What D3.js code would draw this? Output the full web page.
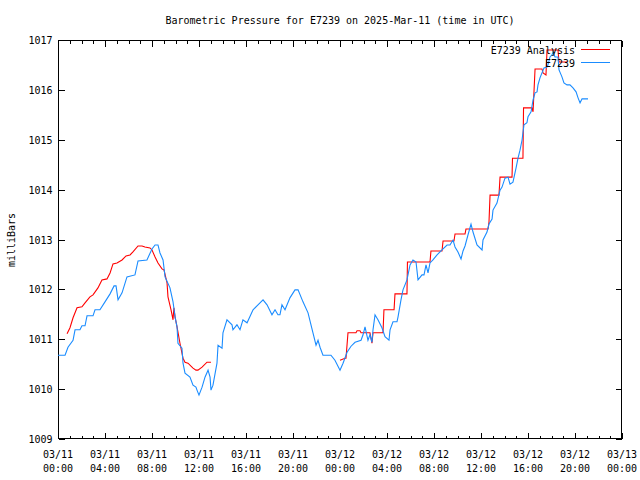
<!DOCTYPE html>
<html>
<head>
<meta charset="utf-8">
<script src="https://cdn.jsdelivr.net/npm/d3@7"></script>
<style>
  html, body { margin: 0; padding: 0; background: #fff; }
  svg { display: block; }
  text { font-family: "DejaVu Sans Mono", monospace; font-size: 10px; fill: #000; }
</style>
</head>
<body>
<svg id="chart" width="640" height="480"></svg>
<script>
// ---- data (hours since 2025-03-11 00:00 UTC, pressure in mbar) ----
const stationHours = [0,0.6,0.85,1.28,1.45,1.87,2.04,2.3,2.47,2.98,3.15,3.57,4.0,4.43,4.77,4.94,5.11,5.45,5.87,6.55,6.81,7.57,8.0,8.26,8.51,8.68,8.94,9.11,9.53,9.79,9.96,10.13,10.21,10.55,10.64,10.81,11.23,11.49,11.74,11.83,12.0,12.26,12.51,12.77,12.94,13.02,13.19,13.53,13.62,13.96,14.04,14.38,14.81,14.89,15.23,15.49,15.74,16.09,16.6,17.02,17.45,17.79,18.21,18.47,18.72,18.89,19.06,19.32,19.74,20.17,20.43,20.85,21.28,21.7,21.96,22.13,22.3,22.55,23.23,23.57,24.0,24.26,24.6,24.94,25.28,25.79,25.96,26.13,26.38,26.55,26.72,26.81,26.98,27.23,27.57,27.83,28.17,28.26,28.51,28.85,28.94,29.19,29.36,29.7,29.96,30.21,30.47,30.64,30.98,31.15,31.32,31.49,31.66,31.91,32.26,32.68,33.11,33.36,33.62,33.79,34.04,34.3,34.47,34.64,34.89,35.15,35.32,35.66,36.09,36.17,36.51,36.68,36.94,37.02,37.36,37.62,37.79,38.04,38.3,38.47,38.72,38.98,39.15,39.32,39.49,39.57,39.66,39.91,40.0,40.26,40.43,40.6,40.77,40.85,41.02,41.19,41.36,41.62,41.7,41.87,42.04,42.13,42.3,42.55,42.64,42.89,43.06,43.32,43.57,43.83,44.09,44.26,44.43,44.6,45.11];
const stationValues = [1010.68,1010.68,1010.84,1010.98,1011.19,1011.19,1011.27,1011.27,1011.47,1011.47,1011.59,1011.59,1011.75,1011.91,1012.07,1012.07,1011.79,1011.93,1012.25,1012.29,1012.57,1012.59,1012.81,1012.89,1012.89,1012.73,1012.59,1012.25,1012.03,1011.75,1011.45,1011.25,1010.92,1010.82,1010.52,1010.32,1010.24,1010.08,1010.04,1009.98,1009.88,1010.04,1010.24,1010.38,1010.24,1009.98,1010.08,1010.52,1010.88,1010.82,1011.13,1011.39,1011.29,1011.19,1011.29,1011.19,1011.39,1011.33,1011.59,1011.69,1011.79,1011.69,1011.49,1011.59,1011.49,1011.49,1011.69,1011.59,1011.83,1011.99,1011.99,1011.75,1011.53,1011.13,1010.88,1010.98,1010.84,1010.68,1010.68,1010.58,1010.38,1010.52,1010.74,1010.86,1010.94,1010.98,1011.09,1011.25,1010.98,1011.09,1010.94,1011.19,1011.49,1011.39,1011.23,1011.05,1010.98,1011.19,1011.35,1011.35,1011.45,1011.79,1011.99,1012.19,1012.49,1012.59,1012.55,1012.19,1012.29,1012.29,1012.49,1012.33,1012.53,1012.59,1012.69,1012.79,1012.89,1012.89,1012.99,1012.85,1012.75,1012.61,1012.77,1012.87,1013.09,1013.31,1013.15,1012.89,1012.79,1012.99,1013.15,1013.31,1013.41,1013.59,1013.73,1013.99,1014.05,1014.23,1014.25,1014.11,1014.15,1014.43,1014.63,1014.79,1014.99,1015.14,1015.30,1015.34,1015.46,1015.56,1015.80,1015.94,1015.96,1016.10,1016.24,1016.34,1016.44,1016.46,1016.50,1016.66,1016.70,1016.76,1016.66,1016.66,1016.40,1016.26,1016.14,1016.10,1016.10,1016.04,1015.96,1015.84,1015.74,1015.82,1015.82];

const analysisHours = [0.77,1.02,1.28,1.62,2.04,2.3,2.72,2.98,3.4,3.74,4.17,4.43,4.68,5.02,5.45,5.79,6.13,6.38,6.81,7.15,7.4,7.83,8.0,8.26,8.51,8.85,9.02,9.28,9.36,9.62,9.79,9.83,9.87,9.96,10.13,10.38,10.64,10.81,11.06,11.49,11.74,11.91,12.26,12.68,13.02,
  18.0,
  24.0,24.43,24.51,24.68,25.36,25.45,25.7,25.79,26.55,26.72,26.81,27.66,27.74,28.6,28.68,29.7,29.74,31.66,31.74,32.68,32.77,33.7,33.79,34.64,34.72,36.6,36.68,36.77,37.53,37.62,38.64,38.68,39.57,39.62,40.34,40.43,40.6,41.19,41.28,41.53,41.62,42.55,42.64,43.32];
const analysisValues = [1011.11,1011.23,1011.43,1011.63,1011.65,1011.73,1011.85,1011.89,1012.03,1012.19,1012.21,1012.33,1012.51,1012.53,1012.59,1012.67,1012.69,1012.75,1012.87,1012.87,1012.85,1012.83,1012.79,1012.65,1012.53,1012.41,1012.39,1012.13,1011.85,1011.59,1011.39,1011.53,1011.63,1011.45,1011.25,1010.92,1010.62,1010.54,1010.52,1010.42,1010.38,1010.38,1010.44,1010.54,1010.54,
  null,
  1010.58,1010.62,1010.62,1011.13,1011.13,1011.17,1011.17,1011.13,1011.13,1010.92,1011.13,1011.13,1011.59,1011.59,1011.91,1011.91,1012.55,1012.55,1012.77,1012.77,1012.97,1012.97,1013.11,1013.11,1013.21,1013.21,1013.35,1013.89,1013.89,1014.25,1014.25,1014.63,1014.63,1015.64,1015.64,1015.56,1016.42,1016.42,1016.34,1016.30,1016.80,1016.80,1016.56,1016.56];

const xMajorHours = [0,4,8,12,16,20,24,28,32,36,40,44,48];
const xTickDates = ["03/11","03/11","03/11","03/11","03/11","03/11","03/12","03/12","03/12","03/12","03/12","03/12","03/13"];
const xTickTimes = ["00:00","04:00","08:00","12:00","16:00","20:00","00:00","04:00","08:00","12:00","16:00","20:00","00:00"];
const yTicks = [1009,1010,1011,1012,1013,1014,1015,1016,1017];

const titleText = "Barometric Pressure for E7239 on 2025-Mar-11 (time in UTC)";
const yLabelText = "milliBars";
const seriesNames = ["E7239 Analysis", "E7239"];
const seriesColors = ["#ff0000", "#1a8cff"];

// ---- layout ----
const L = 58, R = 622, T = 40, B = 439;
const svg = d3.select("#chart");
const x = d3.scaleLinear().domain([0, 48]).range([L, R]);
const y = d3.scaleLinear().domain([1009, 1017]).range([B, T]);
const xMinorHours = d3.range(0, 49).filter(h => h % 4 !== 0);

// frame
svg.append("rect").attr("x", L + 0.5).attr("y", T + 0.5)
  .attr("width", R - L - 1).attr("height", B - T - 1)
  .attr("fill", "none").attr("stroke", "#000").attr("stroke-width", 1)
  .attr("shape-rendering", "crispEdges");

function styleAxis(g) {
  g.select(".domain").remove();
  g.selectAll("line").attr("stroke", "#000").attr("shape-rendering", "crispEdges");
  g.selectAll("text").attr("font-family", "DejaVu Sans Mono, monospace").attr("font-size", 10);
}

// bottom axis major
const gB = svg.append("g").attr("transform", `translate(0,${B - 0.5})`)
  .call(d3.axisBottom(x).tickValues(xMajorHours).tickSizeInner(-6).tickSizeOuter(0).tickPadding(12).tickFormat(""));
styleAxis(gB);
svg.append("g").attr("transform", `translate(0,${B - 0.5})`)
  .call(d3.axisBottom(x).tickValues(xMinorHours).tickSizeInner(-3).tickSizeOuter(0).tickFormat(""))
  .call(styleAxis);
// top axis
svg.append("g").attr("transform", `translate(0,${T + 0.5})`)
  .call(d3.axisTop(x).tickValues(xMajorHours).tickSizeInner(-6).tickSizeOuter(0).tickFormat(""))
  .call(styleAxis);
svg.append("g").attr("transform", `translate(0,${T + 0.5})`)
  .call(d3.axisTop(x).tickValues(xMinorHours).tickSizeInner(-3).tickSizeOuter(0).tickFormat(""))
  .call(styleAxis);
// left / right axes
const gL = svg.append("g").attr("transform", `translate(${L + 0.5},0)`)
  .call(d3.axisLeft(y).tickValues(yTicks).tickSizeInner(-6).tickSizeOuter(0).tickPadding(6).tickFormat(d3.format("d")));
styleAxis(gL);
gL.selectAll("text").attr("dy", "0.35em");
svg.append("g").attr("transform", `translate(${R - 0.5},0)`)
  .call(d3.axisRight(y).tickValues(yTicks).tickSizeInner(-6).tickSizeOuter(0).tickFormat(""))
  .call(styleAxis);

// two-line x tick labels
const xl = svg.append("g");
xMajorHours.forEach((h, i) => {
  const t = xl.append("text").attr("text-anchor", "middle").attr("x", x(h));
  t.append("tspan").attr("x", x(h)).attr("y", 458).text(xTickDates[i]);
  t.append("tspan").attr("x", x(h)).attr("y", 472).text(xTickTimes[i]);
});

// title and y label
svg.append("text").attr("x", 340).attr("y", 24).attr("text-anchor", "middle").text(titleText);
svg.append("text").attr("transform", "translate(15,240) rotate(-90)").attr("text-anchor", "middle").text(yLabelText);

// lines
const analysis = analysisHours.map((h, i) => ({ h, v: analysisValues[i] }));
const station = stationHours.map((h, i) => ({ h, v: stationValues[i] }));
const line = d3.line().defined(d => d.v != null).x(d => x(d.h)).y(d => y(d.v));

svg.append("path").datum(analysis).attr("d", line)
  .attr("fill", "none").attr("stroke", seriesColors[0]).attr("stroke-width", 1.1);
svg.append("path").datum(station).attr("d", line)
  .attr("fill", "none").attr("stroke", seriesColors[1]).attr("stroke-width", 1.1);

// legend
const legendY = [50, 63];
seriesNames.forEach((name, i) => {
  svg.append("text").attr("x", 575).attr("y", legendY[i]).attr("dy", "0.35em")
    .attr("text-anchor", "end").text(name);
  svg.append("line").attr("x1", 581).attr("x2", 610)
    .attr("y1", legendY[i] - 0.5).attr("y2", legendY[i] - 0.5)
    .attr("stroke", seriesColors[i]).attr("stroke-width", 1)
    .attr("shape-rendering", "crispEdges");
});
</script>
</body>
</html>
